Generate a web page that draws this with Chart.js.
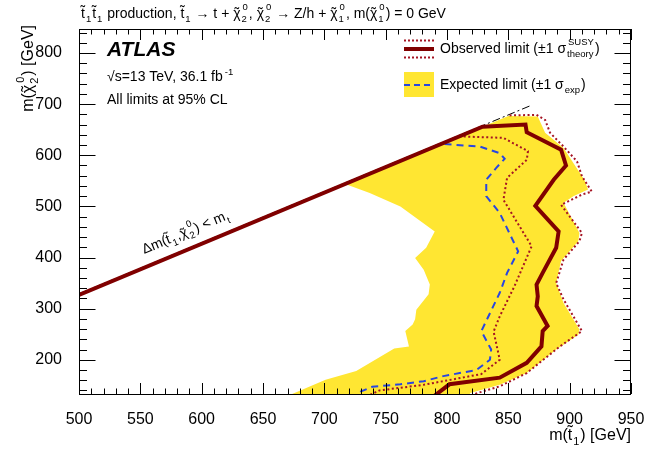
<!DOCTYPE html>
<html>
<head>
<meta charset="utf-8">
<script src="https://cdn.jsdelivr.net/npm/chart.js@4.4.1/dist/chart.umd.min.js"></script>
<style>
  html, body { margin: 0; padding: 0; background: #fff; }
  #wrap { width: 664px; height: 450px; }
</style>
</head>
<body>
<div id="wrap"><canvas id="limitChart"></canvas></div>
<script>
// axis ranges and tick labels (GeV)
var xRange = [500, 950];
var yRange = [133, 847];
var xTickLabels = [500, 550, 600, 650, 700, 750, 800, 850, 900, 950];
var yTickLabels = [200, 300, 400, 500, 600, 700, 800];

// contours, as [m(stop), m(chi2)] pairs
var kinematicLine = [[500, 329], [868, 697]];
var observedLimit = [[500, 327], [829, 656], [864, 660], [865, 645], [893, 611], [897, 580], [887, 552],
  [872, 501], [891, 451], [889, 419], [878, 370], [873, 347], [874, 324], [873, 305], [882, 266],
  [878, 256], [877, 226], [865, 194], [843, 165], [802, 152], [790, 130]];
var observedUp = [[851, 678], [873, 679], [880, 669], [884, 644], [895, 617], [906, 588], [910, 559],
  [918, 529], [910, 523], [893, 503], [910, 448], [908, 432], [895, 396], [889, 350], [895, 318],
  [910, 256], [892, 226], [865, 174], [843, 148], [825, 135], [820, 130]];
var observedDown = [[810, 637], [846, 634], [866, 608], [865, 591], [849, 556], [846, 513], [869, 422],
  [855, 344], [843, 285], [838, 255], [843, 200], [828, 172], [781, 151], [745, 140], [736, 130]];
var expectedLimit = [[798, 622], [827, 617], [843, 604], [847, 593], [840, 575], [832, 552], [832, 520],
  [843, 487], [858, 412], [849, 370], [843, 331], [828, 256], [836, 220], [835, 200], [824, 180],
  [797, 168], [781, 158], [762, 152], [739, 147], [730, 138], [727, 130]];
var expectedBand = [[717, 544], [850, 677], [874, 676], [880, 644], [895, 614], [903, 585], [912, 552],
  [915, 533], [903, 520], [895, 507], [908, 448], [907, 432], [893, 393], [889, 350], [895, 311],
  [908, 259], [907, 249], [889, 220], [865, 174], [843, 151], [819, 135], [817, 125], [666, 125],
  [701, 161], [726, 178], [757, 222], [769, 226], [766, 256], [772, 269], [774, 279], [775, 298],
  [785, 328], [786, 347], [781, 376], [774, 399], [783, 419], [790, 451], [762, 500], [737, 526], [717, 544]];

var FONT = "'Liberation Sans', Arial, Helvetica, sans-serif";
var DARKRED = 'rgb(128,0,0)';
var DOTRED = 'rgb(165,20,35)';
var BLUE = 'rgb(40,70,225)';
var YELLOW = 'rgb(255,230,50)';

function pts(arr) {
  return arr.map(function (p) { return { x: p[0], y: p[1] }; });
}

// text pieces: plain strings, {tl: char} for a letter with a tilde, {sup, sub} for scripts
function partWidth(ctx, p, size, style) {
  var small = size * 0.68;
  if (typeof p === 'string' || p.tl) {
    ctx.font = style + size + 'px ' + FONT;
    return ctx.measureText(typeof p === 'string' ? p : p.tl).width;
  }
  ctx.font = small + 'px ' + FONT;
  var a = p.sup ? ctx.measureText(p.sup).width + 1 : 0;
  var b = p.sub ? ctx.measureText(p.sub).width : 0;
  return Math.max(a, b) + 2;
}

function drawRich(ctx, parts, x, y, size, align, style) {
  style = style || '';
  var small = size * 0.68;
  var w = 0;
  parts.forEach(function (p) { w += partWidth(ctx, p, size, style); });
  if (align === 'right') x -= w;
  if (align === 'center') x -= w / 2;
  ctx.textAlign = 'left';
  ctx.textBaseline = 'alphabetic';
  parts.forEach(function (p) {
    var pw = partWidth(ctx, p, size, style);
    if (typeof p === 'string') {
      ctx.font = style + size + 'px ' + FONT;
      ctx.fillText(p, x, y);
    } else if (p.tl) {
      ctx.font = style + size + 'px ' + FONT;
      ctx.fillText(p.tl, x, y);
      var top = p.tl === 't' ? 0.78 : 0.6;
      ctx.textAlign = 'center';
      ctx.fillText('\u02dc', x + pw / 2, y - size * top + size * 0.62);
      ctx.textAlign = 'left';
    } else {
      ctx.font = small + 'px ' + FONT;
      if (p.sup) ctx.fillText(p.sup, x + 2, y - size * (p.sub ? 0.55 : 0.45));
      if (p.sub) ctx.fillText(p.sub, x + 1, y + size * 0.3);
    }
    x += pw;
  });
  return w;
}

var T = { tl: 't' }, CHI = { tl: '\u03c7' };

var decorations = {
  id: 'decorations',
  afterDraw: function (chart) {
    var ctx = chart.ctx, a = chart.chartArea;
    var xs = chart.scales.x, ys = chart.scales.y;
    ctx.save();

    // frame and inward ticks
    ctx.strokeStyle = '#000';
    ctx.lineWidth = 1;
    ctx.strokeRect(a.left + 0.5, a.top + 0.5, a.right - a.left - 1, a.bottom - a.top);
    ctx.beginPath();
    for (var v = xRange[0]; v <= xRange[1]; v += 10) {
      var len = v % 50 === 0 ? 11 : 5.5;
      var px = Math.round(xs.getPixelForValue(v)) + 0.5;
      ctx.moveTo(px, a.bottom); ctx.lineTo(px, a.bottom - len);
      ctx.moveTo(px, a.top); ctx.lineTo(px, a.top + len);
    }
    for (var w = 140; w <= 840; w += 20) {
      var len2 = w % 100 === 0 ? 16.5 : 8;
      var py = Math.round(ys.getPixelForValue(w)) + 0.5;
      ctx.moveTo(a.left, py); ctx.lineTo(a.left + len2, py);
      ctx.moveTo(a.right, py); ctx.lineTo(a.right - len2, py);
    }
    ctx.stroke();

    ctx.fillStyle = '#000';
    // title
    drawRich(ctx, [T, { sub: '1' }, T, { sub: '1' }, ' production, ', T, { sub: '1' },
      ' \u2192 t + ', CHI, { sup: '0', sub: '2' }, ', ', CHI, { sup: '0', sub: '2' },
      ' \u2192 Z/h + ', CHI, { sup: '0', sub: '1' }, ', m(', CHI, { sup: '0', sub: '1' }, ') = 0 GeV'],
      81, 18, 14, 'left');

    // axis titles
    drawRich(ctx, ['m(', T, { sub: '1' }, ') [GeV]'], a.right, 440, 16, 'right');
    ctx.save();
    ctx.translate(33, 25);
    ctx.rotate(-Math.PI / 2);
    drawRich(ctx, ['m(', CHI, { sup: '0', sub: '2' }, ') [GeV]'], 0, 0, 16, 'right');
    ctx.restore();

    // ATLAS label block
    drawRich(ctx, ['ATLAS'], 107, 56, 21, 'left', 'italic bold ');
    drawRich(ctx, ['\u221as=13 TeV, 36.1 fb', { sup: '-1' }], 107, 81, 14, 'left');
    drawRich(ctx, ['All limits at 95% CL'], 107, 104, 14, 'left');

    // kinematic label along the diagonal
    var p1x = xs.getPixelForValue(kinematicLine[0][0]), p1y = ys.getPixelForValue(kinematicLine[0][1]);
    var p2x = xs.getPixelForValue(kinematicLine[1][0]), p2y = ys.getPixelForValue(kinematicLine[1][1]);
    var ang = Math.atan2(p2y - p1y, p2x - p1x);
    ctx.save();
    ctx.translate(xs.getPixelForValue(557), ys.getPixelForValue(385));
    ctx.rotate(ang);
    drawRich(ctx, ['\u0394m(', T, { sub: '1' }, ',', CHI, { sup: '0', sub: '2' }, ') < m', { sub: 't' }],
      0, -12, 14, 'left');
    ctx.restore();

    // legend
    ctx.lineWidth = 2;
    ctx.strokeStyle = DOTRED;
    ctx.setLineDash([2, 2]);
    ctx.beginPath();
    ctx.moveTo(404, 40.5); ctx.lineTo(434, 40.5);
    ctx.moveTo(404, 57.5); ctx.lineTo(434, 57.5);
    ctx.stroke();
    ctx.setLineDash([]);
    ctx.strokeStyle = DARKRED;
    ctx.lineWidth = 4;
    ctx.beginPath(); ctx.moveTo(404, 49); ctx.lineTo(434, 49); ctx.stroke();
    ctx.fillStyle = YELLOW;
    ctx.fillRect(404, 72, 30, 25);
    ctx.strokeStyle = BLUE;
    ctx.lineWidth = 2;
    ctx.setLineDash([6, 4]);
    ctx.beginPath(); ctx.moveTo(404, 85); ctx.lineTo(434, 85); ctx.stroke();
    ctx.setLineDash([]);
    ctx.fillStyle = '#000';
    drawRich(ctx, ['Observed limit (\u00b11 \u03c3', { sup: 'SUSY', sub: 'theory' }, ')'], 440, 53, 14, 'left');
    drawRich(ctx, ['Expected limit (\u00b11 \u03c3', { sub: 'exp' }, ')'], 440, 89, 14, 'left');

    ctx.restore();
  }
};

Chart.defaults.font.family = FONT;

var ctx = document.getElementById('limitChart').getContext('2d');
var limitChart = new Chart(ctx, {
  type: 'line',
  data: {
    datasets: [{
      label: 'Expected band',
      data: pts(expectedBand),
      backgroundColor: YELLOW,
      borderWidth: 0,
      borderColor: 'rgba(0,0,0,0)',
      fill: 'shape',
      order: 6
    }, {
      label: 'Kinematic limit',
      data: pts(kinematicLine),
      borderColor: '#000',
      borderWidth: 1,
      borderDash: [8, 3, 2, 3],
      fill: false,
      order: 5
    }, {
      label: 'Expected limit',
      data: pts(expectedLimit),
      borderColor: BLUE,
      borderWidth: 2,
      borderDash: [7, 5],
      fill: false,
      order: 4
    }, {
      label: 'Observed -1 sigma',
      data: pts(observedDown),
      borderColor: DOTRED,
      borderWidth: 2,
      borderDash: [2, 2.5],
      fill: false,
      order: 3
    }, {
      label: 'Observed +1 sigma',
      data: pts(observedUp),
      borderColor: DOTRED,
      borderWidth: 2,
      borderDash: [2, 2.5],
      fill: false,
      order: 2
    }, {
      label: 'Observed limit',
      data: pts(observedLimit),
      borderColor: DARKRED,
      borderWidth: 4,
      fill: false,
      order: 1
    }]
  },
  options: {
    responsive: true,
    maintainAspectRatio: false,
    animation: false,
    elements: { point: { radius: 0 }, line: { tension: 0 } },
    layout: { padding: { top: 29, right: 33, left: 0, bottom: 0 } },
    plugins: { legend: { display: false }, tooltip: { enabled: false } },
    scales: {
      x: {
        type: 'linear', min: xRange[0], max: xRange[1],
        grid: { display: false }, border: { display: false },
        afterFit: function (s) { s.height = 56; },
        afterBuildTicks: function (s) { s.ticks = xTickLabels.map(function (v) { return { value: v }; }); },
        ticks: { padding: 8, color: '#000', font: { size: 16 }, autoSkip: false, maxRotation: 0 }
      },
      y: {
        type: 'linear', min: yRange[0], max: yRange[1],
        grid: { display: false }, border: { display: false },
        afterFit: function (s) { s.width = 79; },
        afterBuildTicks: function (s) { s.ticks = yTickLabels.map(function (v) { return { value: v }; }); },
        ticks: { padding: 9, color: '#000', font: { size: 16 } }
      }
    }
  },
  plugins: [decorations]
});
</script>
</body>
</html>
